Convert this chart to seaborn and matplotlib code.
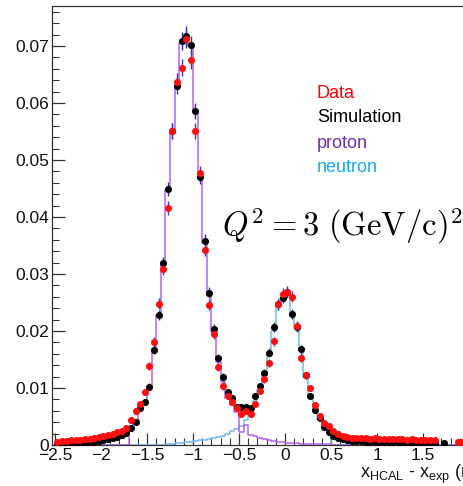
import numpy as np
import pandas as pd
import matplotlib
matplotlib.use("Agg")
import matplotlib.pyplot as plt
from matplotlib.ticker import MultipleLocator, FuncFormatter
import seaborn as sns

# bins of 0.05 from -2.5 to 1.95 (89 bins)
bin_lo = -2.5
bin_w = 0.05
nan = np.nan

data_vals = [
    0.0006, 0.0007, 0.0007, 0.0008, 0.0008, 0.0009, 0.0010, 0.0011, 0.0012, 0.0014,
    0.0016, 0.0018, 0.0020, 0.0022, 0.0025, 0.0030, 0.0044, 0.0060, 0.0072, 0.0093,
    0.0139, 0.0181, 0.0248, 0.0309, 0.0416, 0.0551, 0.0637, 0.0662, 0.0712, 0.0675,
    0.0551, 0.0477, 0.0342, 0.0246, 0.0195, 0.0137, 0.0103, 0.0086, 0.0075, 0.0065,
    0.0055, 0.0060, 0.0055, 0.0072, 0.0095, 0.0115, 0.0144, 0.0182, 0.0247, 0.0265,
    0.0268, 0.0260, 0.0209, 0.0153, 0.0122, 0.0100, 0.0070, 0.0051, 0.0039, 0.0033,
    0.0024, 0.0019, 0.0016, 0.0014, 0.0013, 0.0013, 0.0012, 0.0012, 0.0011, 0.0012,
    0.0011, 0.0011, 0.0010, 0.0011, 0.0010, 0.0010, 0.0009, 0.0010, 0.0009, 0.0009,
    0.0008, 0.0009, 0.0008, nan, nan, nan, nan, 0.0005, 0.0005,
]

sim_vals = [
    0.0002, 0.0002, 0.0003, 0.0003, 0.0003, 0.0004, 0.0004, 0.0005, 0.0006, 0.0007,
    0.0008, 0.0010, 0.0012, 0.0014, 0.0017, 0.0021, 0.0030, 0.0040, 0.0065, 0.0075,
    0.0102, 0.0167, 0.0228, 0.0319, 0.0449, 0.0551, 0.0630, 0.0709, 0.0718, 0.0702,
    0.0586, 0.0470, 0.0358, 0.0267, 0.0204, 0.0152, 0.0119, 0.0093, 0.0083, 0.0066,
    0.0066, 0.0066, 0.0065, 0.0086, 0.0103, 0.0127, 0.0162, 0.0207, 0.0247, 0.0258,
    0.0269, 0.0230, 0.0207, 0.0168, 0.0122, 0.0086, 0.0062, 0.0047, 0.0031, 0.0023,
    0.0015, 0.0012, 0.0010, 0.0008, 0.0007, 0.0007, 0.0007, 0.0006, 0.0006, 0.0006,
    0.0006, 0.0005, 0.0005, 0.0005, 0.0005, 0.0004, 0.0004, 0.0004, 0.0004, 0.0004,
    0.0003, 0.0003, 0.0003, nan, 0.0004, nan, nan, nan, nan,
]

proton_vals = [
    0, 0, 0, 0, 0, 0, 0, 0, 0, 0,
    0, 0, 0, 0, 0, 0, 0.0032, 0.0040, 0.0060, 0.0075,
    0.0102, 0.0168, 0.0228, 0.0320, 0.0448, 0.0550, 0.0630, 0.0705, 0.0715, 0.0700,
    0.0585, 0.0468, 0.0355, 0.0262, 0.0198, 0.0145, 0.0110, 0.0082, 0.0070, 0.0058,
    0.0023, 0.0035, 0.0018, 0.0015, 0.0012, 0.0010, 0.0008, 0.0007, 0.0006, 0.0005,
    0.0004, 0.0003, 0.0003, 0.0002, 0.0002, 0.0002, 0.0001, 0.0001, 0.0001, 0.0001,
    0, 0, 0, 0, 0, 0, 0, 0, 0, 0,
    0, 0, 0, 0, 0, 0, 0, 0, 0, 0,
    0, 0, 0, 0, 0, 0, 0, 0, 0,
]

neutron_vals = [
    0, 0, 0, 0, 0, 0, 0, 0, 0, 0,
    0, 0, 0, 0, 0, 0, 0, 0, 0, 0,
    0, 0, 0, 0, 0.0001, 0.0002, 0.0003, 0.0004, 0.0005, 0.0006,
    0.0007, 0.0008, 0.0009, 0.0011, 0.0012, 0.0014, 0.0016, 0.0019, 0.0024, 0.0028,
    0.0033, 0.0043, 0.0058, 0.0077, 0.0097, 0.0122, 0.0156, 0.0200, 0.0243, 0.0257,
    0.0268, 0.0228, 0.0205, 0.0166, 0.0120, 0.0085, 0.0060, 0.0045, 0.0031, 0.0027,
    0, 0, 0, 0, 0, 0, 0, 0, 0, 0,
    0, 0, 0, 0, 0, 0, 0, 0, 0, 0,
    0, 0, 0, 0, 0, 0, 0, 0, 0,
]

legend_labels = ["Data", "Simulation", "proton", "neutron"]
legend_colors = ["#ff0000", "#000000", "#7030a0", "#1aaaf0"]

n_bins = len(data_vals)
edges = bin_lo + bin_w * np.arange(n_bins + 1)
centers = 0.5 * (edges[:-1] + edges[1:])
df = pd.DataFrame({"x": centers, "data": data_vals, "sim": sim_vals,
                   "proton": proton_vals, "neutron": neutron_vals})

sns.set_style("white")
plt.rcParams["font.family"] = ["Liberation Sans", "DejaVu Sans"]
plt.rcParams["mathtext.fontset"] = "custom"
plt.rcParams["mathtext.rm"] = "Liberation Sans"
plt.rcParams["mathtext.it"] = "Liberation Sans:italic"

fig = plt.figure(figsize=(4.64, 4.86), dpi=100)
ax = fig.add_axes([52 / 464, 41 / 486, 463 / 464, 439 / 486])

# simulation components as step histograms
sns.histplot(data=df, x="x", weights="neutron", bins=list(edges), element="step", fill=False,
             color="#74b9ee", linewidth=1.1, ax=ax)
sns.histplot(data=df, x="x", weights="proton", bins=list(edges), element="step", fill=False,
             color="#b563ec", linewidth=1.1, ax=ax)

# error bars then markers
ax.errorbar(df["x"], df["sim"], yerr=0.006 * np.sqrt(df["sim"].fillna(0)), fmt="none",
            ecolor="#2f2f8f", elinewidth=1.0, zorder=3)
ax.errorbar(df["x"], df["data"], yerr=0.006 * np.sqrt(df["data"].fillna(0)), fmt="none",
            ecolor="#3a3ab5", elinewidth=1.0, zorder=3)
sns.scatterplot(data=df, x="x", y="sim", color="black", s=26, linewidth=0, ax=ax, zorder=4)
sns.scatterplot(data=df, x="x", y="data", color="#ff1010", s=26, linewidth=0, ax=ax, zorder=5)

ax.set_xlim(-2.533, 2.5)
ax.set_ylim(0, 0.077)
ax.set_xlabel("")
ax.set_ylabel("")


def xfmt(v, p):
    if v > 1.9:
        return ""
    return f"{v:g}".replace("-", "\u2212")


ax.xaxis.set_major_locator(MultipleLocator(0.5))
ax.xaxis.set_minor_locator(MultipleLocator(0.1))
ax.yaxis.set_major_locator(MultipleLocator(0.01))
ax.yaxis.set_minor_locator(MultipleLocator(0.002))
ax.xaxis.set_major_formatter(FuncFormatter(xfmt))
ax.yaxis.set_major_formatter(FuncFormatter(lambda v, p: "0" if abs(v) < 1e-9 else f"{v:.2f}"))
ax.tick_params(which="both", direction="in", color="#333333", labelsize=12.5,
               labelcolor="#111111", bottom=True, left=True, top=False, right=False)
ax.tick_params(which="major", length=9, width=0.9, pad=2)
ax.tick_params(which="minor", length=5, width=0.8)
for side in ["left", "bottom", "top", "right"]:
    ax.spines[side].set_color("#333333")
    ax.spines[side].set_linewidth(0.9)

# legend as coloured text
for i, (lab, col) in enumerate(zip(legend_labels, legend_colors)):
    fig.text(317 / 464, 1 - (93 + 25 * i) / 486, lab, color=col, fontsize=13, va="center", ha="left")

fig.text(222 / 464, 1 - 236 / 486, r"$Q^2 = 3\ (\mathrm{GeV/c})^2$", math_fontfamily="cm",
         fontsize=23.5, va="baseline", ha="left", color="black")

fig.text(360 / 464, 1 - 474 / 486, r"x$_{\mathrm{HCAL}}$ - x$_{\mathrm{exp}}$ (m)",
         fontsize=13, va="center", ha="left", color="#111111")

fig.savefig("out.png", dpi=100)
